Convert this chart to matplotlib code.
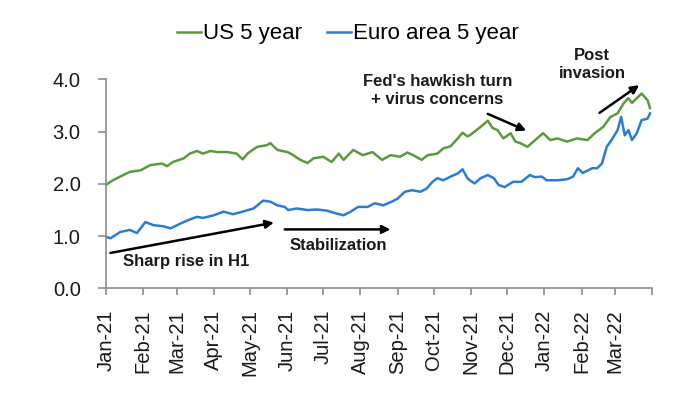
#!/usr/bin/env python3
"""
US vs euro area 5-year yields, Jan-21 to Mar-22, with annotations.
Saves out.png.
"""

import matplotlib
matplotlib.use("Agg")

import matplotlib.pyplot as plt
import matplotlib.dates as mdates
import numpy as np
import pandas as pd

plt.rcParams["font.family"] = ["Liberation Sans", "DejaVu Sans"]

START = pd.Timestamp("2021-01-01")

# US 5 year: days after 1 Jan 2021, yield (%)
us_day = [0, 6, 12, 20, 29, 37, 47, 51, 56, 65, 70, 76, 81, 87, 93, 101, 109, 114,
          118, 126, 134, 137, 143, 151, 154, 162, 168, 173, 181, 188, 194, 198, 206,
          214, 222, 230, 237, 245, 251, 256, 263, 268, 276, 281, 287, 293, 297, 301,
          303, 312, 318, 322, 326, 331, 337, 341, 345, 351, 356, 364, 370, 376, 384,
          392, 401, 407, 414, 420, 426, 431, 435, 438, 442, 446, 451, 453]
us_val = [1.98, 2.07, 2.14, 2.23, 2.26, 2.36, 2.39, 2.34, 2.42, 2.49, 2.58, 2.63, 2.58,
          2.63, 2.61, 2.61, 2.58, 2.47, 2.58, 2.71, 2.74, 2.78, 2.65, 2.61, 2.58, 2.46,
          2.40, 2.49, 2.52, 2.42, 2.58, 2.46, 2.65, 2.55, 2.61, 2.46, 2.55, 2.52, 2.60,
          2.55, 2.46, 2.55, 2.58, 2.68, 2.72, 2.87, 2.98, 2.91, 2.93, 3.09, 3.21, 3.07,
          3.03, 2.87, 2.97, 2.81, 2.78, 2.71, 2.81, 2.97, 2.84, 2.87, 2.81, 2.87, 2.84,
          2.97, 3.09, 3.28, 3.35, 3.54, 3.64, 3.55, 3.64, 3.73, 3.60, 3.45]

# Euro area 5 year
eu_day = [0, 4, 12, 20, 26, 33, 40, 48, 54, 62, 70, 76, 81, 90, 98, 106, 114, 123,
          131, 137, 143, 149, 152, 159, 168, 176, 184, 191, 198, 204, 210, 218, 224,
          231, 238, 243, 249, 255, 262, 267, 272, 276, 281, 287, 293, 297, 301, 303,
          307, 312, 318, 323, 327, 332, 339, 346, 353, 357, 363, 367, 376, 384, 389,
          393, 397, 405, 409, 413, 417, 421, 426, 429, 432, 435, 438, 442, 446, 451, 453]
eu_val = [0.99, 0.96, 1.08, 1.12, 1.06, 1.27, 1.21, 1.19, 1.15, 1.24, 1.32, 1.37, 1.35,
          1.40, 1.47, 1.42, 1.47, 1.53, 1.68, 1.66, 1.59, 1.56, 1.50, 1.53, 1.50, 1.51,
          1.49, 1.44, 1.40, 1.47, 1.56, 1.56, 1.63, 1.59, 1.66, 1.72, 1.85, 1.88, 1.85,
          1.91, 2.04, 2.11, 2.07, 2.14, 2.20, 2.28, 2.11, 2.07, 2.01, 2.11, 2.17, 2.11,
          1.98, 1.94, 2.04, 2.04, 2.17, 2.13, 2.14, 2.07, 2.07, 2.09, 2.14, 2.30, 2.21,
          2.30, 2.30, 2.39, 2.71, 2.84, 3.03, 3.28, 2.93, 3.03, 2.84, 2.97, 3.22, 3.25, 3.35]

month_ticks = pd.date_range("2021-01-01", "2022-04-01", freq="MS")
month_labels = [d.strftime("%b-%y") for d in month_ticks[:-1]] + [""]

US_GREEN = "#5b9a3b"
EU_BLUE = "#2a7dd2"


def to_dates(days):
    return START + pd.to_timedelta(days, unit="D")


def d(n):
    # date n days after start, for annotation placement
    return mdates.date2num(START + pd.Timedelta(days=n))


def main() -> None:
    fig = plt.figure(figsize=(7.0, 3.93), dpi=100)
    ax = fig.add_axes([0.151, 0.266, 0.781, 0.532])

    ax.plot(to_dates(us_day), us_val, color=US_GREEN, lw=1.8, label="US 5 year")
    ax.plot(to_dates(eu_day), eu_val, color=EU_BLUE, lw=1.8, label="Euro area 5 year")

    ax.set_ylim(0, 4)
    ax.set_yticks(np.arange(0, 4.01, 1.0))
    ax.set_yticklabels([f"{v:.1f}" for v in np.arange(0, 4.01, 1.0)])
    ax.set_xlim(month_ticks[0], month_ticks[-1])
    ax.set_xticks(month_ticks)
    ax.set_xticklabels(month_labels, rotation=90)

    for side in ("top", "right"):
        ax.spines[side].set_visible(False)
    for side in ("left", "bottom"):
        ax.spines[side].set_color("#8c8c8c")
        ax.spines[side].set_linewidth(1.2)
    ax.tick_params(axis="y", direction="out", length=6, width=1.2, color="#8c8c8c",
                   labelsize=14.5, pad=12, labelcolor="#1a1a1a")
    ax.tick_params(axis="x", direction="out", length=5, width=1.2, color="#8c8c8c",
                   labelsize=14.5, pad=10, labelcolor="#1a1a1a")

    fig.legend(loc="center", bbox_to_anchor=(0.497, 0.914), ncol=2, frameon=False,
               fontsize=16, handlelength=1.1, handletextpad=0.1, columnspacing=1.1,
               borderaxespad=0)

    arrow = dict(arrowstyle="-|>", color="black", lw=1.8, mutation_scale=12,
                 shrinkA=0, shrinkB=0)
    txt = dict(fontsize=12, fontweight="bold", color="#1a1a1a")

    # Sharp rise in H1
    ax.annotate("", xy=(d(140), 1.26), xytext=(d(4), 0.68), arrowprops=arrow)
    ax.text(d(14), 0.51, "Sharp rise in H1", ha="left", va="center", **txt)

    # Stabilization
    ax.annotate("", xy=(d(237), 1.13), xytext=(d(149), 1.13), arrowprops=arrow)
    ax.text(d(153), 0.83, "Stabilization", ha="left", va="center", **txt)

    # Fed's hawkish turn
    ax.annotate("", xy=(d(350), 3.02), xytext=(d(318), 3.34), arrowprops=arrow)
    ax.text(d(276), 3.78, "Fed's hawkish turn\n+ virus concerns", ha="center",
            va="center", linespacing=1.25, **txt)

    # Post invasion
    ax.annotate("", xy=(d(444), 3.89), xytext=(d(411), 3.36), arrowprops=arrow,
                annotation_clip=False)
    ax.text(d(405), 4.28, "Post\ninvasion", ha="center", va="center",
            linespacing=1.25, clip_on=False, **txt)

    fig.savefig("out.png", dpi=100, facecolor="white")
    plt.close(fig)


if __name__ == "__main__":
    main()
